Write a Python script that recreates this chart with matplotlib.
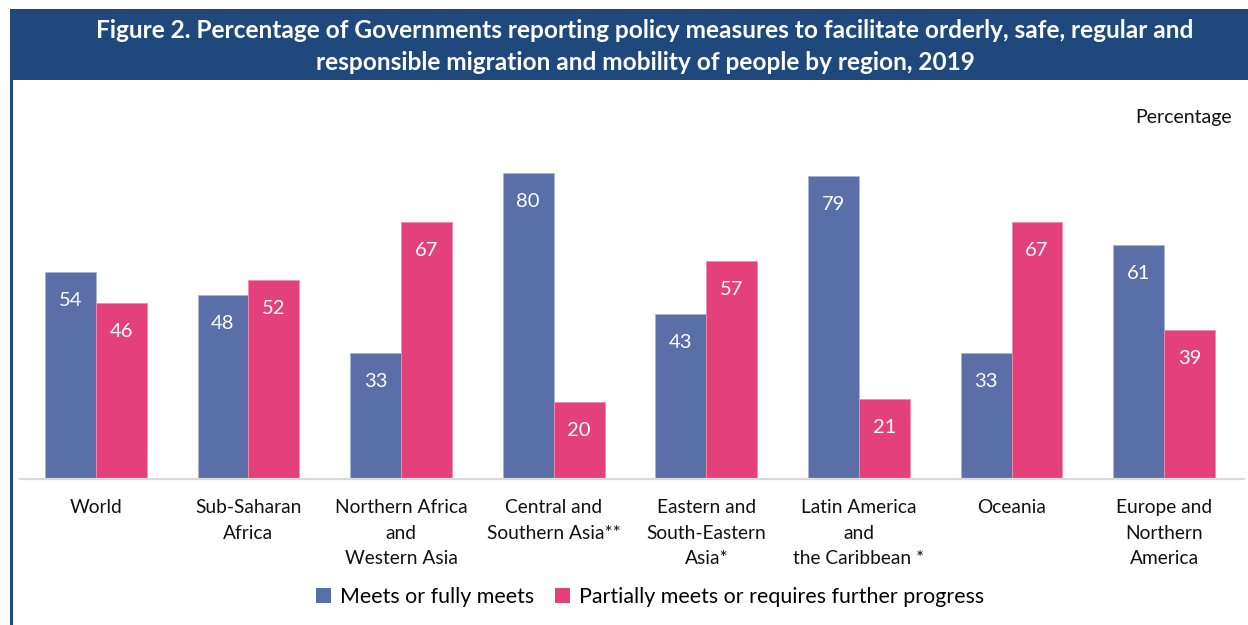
import matplotlib
matplotlib.use("Agg")
import matplotlib.pyplot as plt
from matplotlib.patches import Rectangle, Patch
from matplotlib.lines import Line2D
import numpy as np

categories = ["World", "Sub-Saharan\nAfrica", "Northern Africa\nand\nWestern Asia",
              "Central and\nSouthern Asia**", "Eastern and\nSouth-Eastern\nAsia*",
              "Latin America\nand\nthe Caribbean *", "Oceania", "Europe and\nNorthern\nAmerica"]
meets = [54, 48, 33, 80, 43, 79, 33, 61]
partial = [46, 52, 67, 20, 57, 21, 67, 39]
series_names = ["Meets or fully meets", "Partially meets or requires further progress"]
title = ("Figure 2. Percentage of Governments reporting policy measures to facilitate orderly, safe, regular and\n"
         "responsible migration and mobility of people by region, 2019")

BLUE = "#5A6EA8"
PINK = "#E4417B"
BANNER = "#1F497D"

plt.rcParams['font.family'] = ['Lato', 'DejaVu Sans']

W, H = 1248, 625
fig = plt.figure(figsize=(W/100, H/100), dpi=100)

# banner
fig.patches.append(Rectangle((10/W, 1-80/H), 1-10/W, 71/H, transform=fig.transFigure,
                             facecolor=BANNER, edgecolor='none', zorder=0))
fig.lines.append(Line2D([11/W, 11/W], [0, 1-80/H], transform=fig.transFigure,
                        color=BANNER, linewidth=2.2))
fig.text(645/W, 1-46.5/H, title, ha='center', va='center', color='white',
         fontsize=17.6, fontweight='bold', linespacing=1.5)

ax = fig.add_axes([19.5/W, 146/H, 1224/W, 383/H])
x = np.arange(len(categories))
bw = 1/3
b1 = ax.bar(x - bw/2, meets, bw, color=BLUE, edgecolor='#A8B4D4', linewidth=0.6, label=series_names[0])
b2 = ax.bar(x + bw/2, partial, bw, color=PINK, edgecolor='#F08AAE', linewidth=0.6, label=series_names[1])

for bars, vals in ((b1, meets), (b2, partial)):
    for r, v in zip(bars, vals):
        ax.annotate(str(v), (r.get_x() + r.get_width()/2, v), xytext=(0, -20.5),
                    textcoords='offset points', ha='center', va='center',
                    color='white', fontsize=14.5)

ax.set_xlim(-0.5, 7.52)
ax.set_ylim(0, 100)
ax.set_yticks([])
ax.set_xticks(x)
ax.set_xticklabels(categories, fontsize=13.8, multialignment='center', linespacing=1.6)
ax.tick_params(axis='x', length=0, pad=14.5, colors='#111111')
for s in ['top', 'right', 'left']:
    ax.spines[s].set_visible(False)
ax.spines['bottom'].set_color('#D9D9D9')
ax.spines['bottom'].set_linewidth(1.6)

fig.text(1232/W, 1-118/H, "Percentage", ha='right', va='center', fontsize=14, color='#111111')

handles = [Patch(facecolor=BLUE, label=series_names[0]), Patch(facecolor=PINK, label=series_names[1])]
fig.legend(handles=handles, loc='center', bbox_to_anchor=(650/W, 1-597/H), ncol=2, frameon=False,
           fontsize=15.4, handlelength=0.7, handleheight=0.7, handletextpad=0.4, columnspacing=1.0)

fig.savefig("out.png", dpi=100, facecolor='white')
